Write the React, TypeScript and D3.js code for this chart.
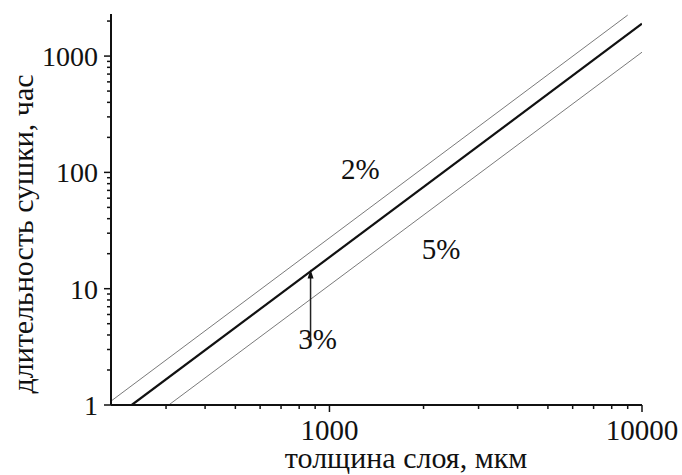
import React from 'react';
import * as d3 from 'd3';

// chart data (drying time vs layer thickness, log-log)
const thickness2 = [200, 9000];
const hours2 = [1.08, 2250];
const thickness3 = [233, 10000];
const hours3 = [1, 1900];
const thickness5 = [306, 10000];
const hours5 = [1, 1080];

const xMajorTicks = [1000, 10000];
const xMinorTicks = [300, 400, 500, 600, 700, 800, 900, 2000, 3000, 4000, 5000, 6000, 7000, 8000, 9000];
const yMajorTicks = [1, 10, 100, 1000];
const yMinorTicks = [2, 3, 4, 5, 6, 7, 8, 9, 20, 30, 40, 50, 60, 70, 80, 90, 200, 300, 400, 500, 600, 700, 800, 900, 2000];

const labels = [
  { text: '2%', x: 1256, y: 88 },
  { text: '5%', x: 2275, y: 18 },
];
const arrowLabel = { text: '3%', x: 870, from: 3.2, to: 14.6 };

const W = 682, H = 475;

const x = d3.scaleLog().domain([200, 10000]).range([111, 642]);
const y = d3.scaleLog().domain([1, 2300]).range([405, 14]);
const line = d3.line<[number, number]>().x(d => x(d[0])).y(d => y(d[1]));

const series = [
  { xs: thickness2, ys: hours2, w: 1, c: '#7a7a7a' },
  { xs: thickness5, ys: hours5, w: 1, c: '#7a7a7a' },
  { xs: thickness3, ys: hours3, w: 2.2, c: '#111' },
];

function T(props: { x?: number; y?: number; anchor?: string; size?: number; transform?: string; children: React.ReactNode }) {
  return (
    <text x={props.x} y={props.y} transform={props.transform} textAnchor={props.anchor || 'middle'}
      style={{ fontFamily: 'Liberation Serif', fontSize: props.size || 29 }} fill="#111">
      {props.children}
    </text>
  );
}

function App() {
  const ax = x(arrowLabel.x);
  const tip = y(arrowLabel.to);
  return (
    <svg width={W} height={H} style={{ position: 'absolute', left: 0, top: 0, background: '#fff' }}>
      <defs>
        <clipPath id="plot"><rect x={111} y={14} width={531} height={391} /></clipPath>
      </defs>

      <g clipPath="url(#plot)">
        {series.map((s, i) => (
          <path key={i} d={line(s.xs.map((v, j) => [v, s.ys[j]] as [number, number])) || ''}
            fill="none" stroke={s.c} strokeWidth={s.w} />
        ))}
      </g>

      {/* x axis */}
      <line x1={111} x2={642} y1={405} y2={405} stroke="#111" strokeWidth={2} />
      {xMinorTicks.map(t => (
        <line key={t} x1={x(t)} x2={x(t)} y1={405} y2={409} stroke="#111" strokeWidth={1.5} />
      ))}
      {xMajorTicks.map(t => (
        <g key={t}>
          <line x1={x(t)} x2={x(t)} y1={405} y2={412} stroke="#111" strokeWidth={1.5} />
          <T x={x(t)} y={440} size={29}>{d3.format('d')(t)}</T>
        </g>
      ))}

      {/* y axis */}
      <line x1={111} x2={111} y1={14} y2={405} stroke="#111" strokeWidth={2} />
      {yMinorTicks.map(t => (
        <line key={t} x1={107} x2={111} y1={y(t)} y2={y(t)} stroke="#111" strokeWidth={1.5} />
      ))}
      {yMajorTicks.map(t => (
        <g key={t}>
          <line x1={104} x2={111} y1={y(t)} y2={y(t)} stroke="#111" strokeWidth={1.5} />
          <T x={98} y={y(t) + 10} anchor="end" size={28}>{d3.format('d')(t)}</T>
        </g>
      ))}

      {/* curve labels */}
      {labels.map(l => (
        <T key={l.text} x={x(l.x)} y={y(l.y)}>{l.text}</T>
      ))}

      {/* arrow for 3% */}
      <line x1={ax} x2={ax} y1={y(arrowLabel.from)} y2={tip + 6} stroke="#222" strokeWidth={1.5} />
      <path d={`M${ax},${tip} L${ax - 3},${tip + 9} L${ax + 3},${tip + 9} Z`} fill="#111" />
      <T x={ax + 7} y={349}>{arrowLabel.text}</T>

      {/* axis titles */}
      <T x={406} y={468} size={30}>толщина слоя, мкм</T>
      <T transform="translate(33,234) rotate(-90)" size={30}>длительность сушки, час</T>
    </svg>
  );
}

export default App;
